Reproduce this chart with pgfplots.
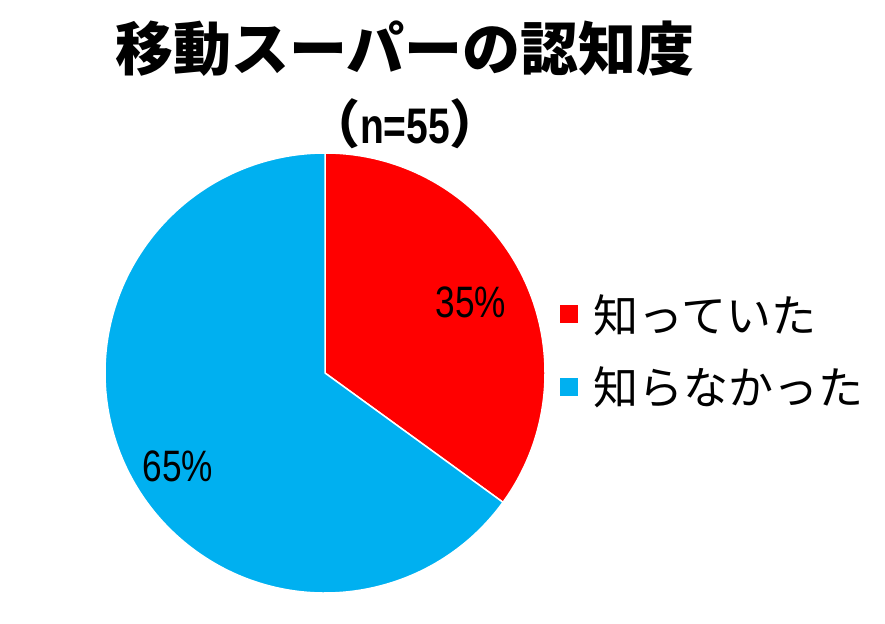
\documentclass[border=0pt]{standalone}
\usepackage{pgfplots}
\usepackage{pgfplotstable}
\pgfplotsset{compat=1.18}
\usepackage{fontspec}
\setmainfont{Liberation Sans}
\newfontfamily\cjk{Noto Sans CJK JP}
\definecolor{cRed}{HTML}{FF0000}
\definecolor{cBlue}{HTML}{00B0F0}
\pgfplotstableread{
label value
known 35
unknown 65
}\piedata
\begin{document}
\begin{tikzpicture}
\pgfplotstablegetelem{0}{value}\of\piedata \edef\va{\pgfplotsretval}
\pgfplotstablegetelem{1}{value}\of\piedata \edef\vb{\pgfplotsretval}
\pgfmathsetmacro{\aA}{90}
\pgfmathsetmacro{\aB}{90-\va*3.6}
\pgfmathsetmacro{\aC}{\aB-\vb*3.6}
\begin{axis}[
  width=885pt, height=619pt, scale only axis,
  xmin=0, xmax=885, ymin=0, ymax=619,
  enlargelimits=false, axis lines=none,
  clip=false,
]
\addplot[draw=none] coordinates {(0,0) (885,619)};
\fill[cRed, draw=white, line width=1.5pt, line join=round]
  (axis cs:325,246) -- ++(\aA:220pt) arc[start angle=\aA, end angle=\aB, radius=220pt] -- cycle;
\fill[cBlue, draw=white, line width=1.5pt, line join=round]
  (axis cs:325,246) -- ++(\aB:220pt) arc[start angle=\aB, end angle=\aC, radius=220pt] -- cycle;
% labels
\node[font=\fontsize{44}{44}\selectfont, xscale=0.8] at (axis cs:471,317) {\va\%};
\node[font=\fontsize{44}{44}\selectfont, xscale=0.8] at (axis cs:178,153) {\vb\%};
% title
\node[font=\cjk\bfseries\fontsize{58}{58}\selectfont] at (axis cs:405,570) {移動スーパーの認知度};
\node at (axis cs:405,495) {{\cjk\bfseries\fontsize{52}{52}\selectfont （}\scalebox{0.78}[1]{\bfseries\fontsize{50}{50}\selectfont n=55}{\cjk\bfseries\fontsize{52}{52}\selectfont ）}};
% legend
\fill[cRed] (axis cs:560,296) rectangle (axis cs:578,314);
\fill[cBlue] (axis cs:560,223) rectangle (axis cs:578,241);
\node[anchor=west, font=\cjk\fontsize{45}{45}\selectfont] at (axis cs:590,304) {知っていた};
\node[anchor=west, font=\cjk\fontsize{45}{45}\selectfont] at (axis cs:590,232) {知らなかった};
\end{axis}
\end{tikzpicture}
\end{document}
